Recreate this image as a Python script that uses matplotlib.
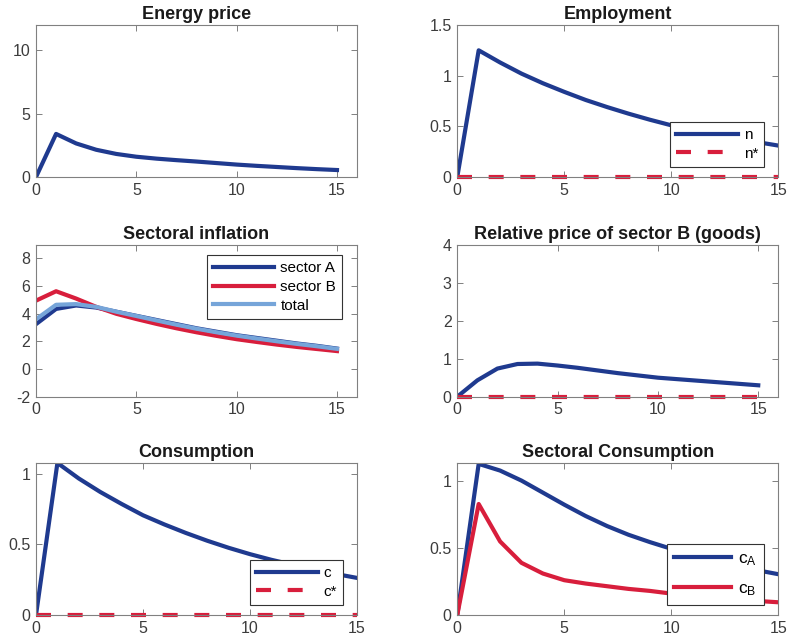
import numpy as np
import matplotlib
matplotlib.use("Agg")
import matplotlib.pyplot as plt

plt.rcParams['font.family'] = ['Liberation Sans', 'DejaVu Sans']
plt.rcParams['axes.unicode_minus'] = False

# impulse responses, horizons 0..15
t = np.arange(16)

energy_price = [0, 3.4, 2.65, 2.15, 1.82, 1.6, 1.45, 1.33, 1.22, 1.1, 0.98, 0.88, 0.79, 0.7, 0.62, 0.55]

n = [0, 1.25, 1.13, 1.02, 0.925, 0.84, 0.76, 0.69, 0.625, 0.565, 0.51, 0.465, 0.42, 0.38, 0.345, 0.31]
n_star = [0] * 16

pi_A = [3.25, 4.35, 4.6, 4.45, 4.15, 3.85, 3.55, 3.25, 2.95, 2.7, 2.45, 2.25, 2.05, 1.85, 1.68, 1.48]
pi_B = [4.95, 5.63, 5.1, 4.5, 4.0, 3.62, 3.27, 2.95, 2.66, 2.4, 2.16, 1.96, 1.77, 1.6, 1.45, 1.3]
pi_tot = [3.6, 4.65, 4.7, 4.5, 4.15, 3.84, 3.52, 3.21, 2.92, 2.66, 2.42, 2.21, 2.01, 1.82, 1.65, 1.46]

rel_price = [0, 0.43, 0.74, 0.86, 0.87, 0.82, 0.76, 0.69, 0.62, 0.56, 0.5, 0.46, 0.42, 0.38, 0.34, 0.3]
rel_price_star = [0] * 16

c = [0, 1.075, 0.965, 0.87, 0.785, 0.705, 0.64, 0.58, 0.525, 0.475, 0.43, 0.39, 0.355, 0.32, 0.29, 0.262]
c_star = [0] * 16

c_A = [0, 1.13, 1.08, 1.005, 0.915, 0.825, 0.74, 0.665, 0.6, 0.545, 0.495, 0.45, 0.41, 0.37, 0.335, 0.305]
c_B = [0, 0.83, 0.55, 0.39, 0.31, 0.26, 0.235, 0.215, 0.195, 0.18, 0.16, 0.145, 0.13, 0.118, 0.105, 0.095]

BLUE = '#1f3a8f'
RED = '#d81e3c'
LIGHT = '#76a5d9'
LW = 3.0
DASH = (3.6, 4.0)

fig = plt.figure(figsize=(7.88, 6.42), dpi=100)

lefts = [0.0457, 0.5803]
bottoms = [0.7243, 0.3821, 0.0421]
w, h = 0.4074, 0.2368


def make_ax(row, col, title, xlim, ylim, yticks, yticklabels=None):
    ax = fig.add_axes([lefts[col], bottoms[row], w, h])
    ax.set_xlim(*xlim)
    ax.set_ylim(*ylim)
    ax.set_xticks([0, 5, 10, 15])
    ax.set_yticks(yticks)
    if yticklabels is not None:
        ax.set_yticklabels(yticklabels)
    ax.set_title(title, fontsize=13, fontweight='bold', color='#1a1a1a', pad=4)
    ax.tick_params(direction='in', length=4, width=0.7, top=True, right=True,
                   labelsize=11.5, colors='#808080', labelcolor='#3c3c3c', pad=4)
    for s in ax.spines.values():
        s.set_color('#808080')
        s.set_linewidth(0.8)
    return ax


def legend(ax, loc, anchor, size=11, spacing=0.3, hl=4.0):
    lg = ax.legend(loc=loc, bbox_to_anchor=anchor, fontsize=size, handlelength=hl,
                   fancybox=False, framealpha=1, edgecolor='#333333',
                   borderpad=0.4, labelspacing=spacing, handletextpad=0.4,
                   borderaxespad=0)
    lg.get_frame().set_linewidth(0.8)
    return lg


# Energy price
ax = make_ax(0, 0, 'Energy price', (0, 16), (0, 12), [0, 5, 10])
ax.plot(t, energy_price, color=BLUE, lw=LW)

# Employment
ax = make_ax(0, 1, 'Employment', (0, 15), (0, 1.5), [0, 0.5, 1, 1.5], ['0', '0.5', '1', '1.5'])
ax.plot(t, n, color=BLUE, lw=LW, label='n')
ax.plot(t, n_star, color=RED, lw=LW, dashes=DASH, label='n*', clip_on=False)
legend(ax, 'lower right', (0.956, 0.068))

# Sectoral inflation
ax = make_ax(1, 0, 'Sectoral inflation', (0, 16), (-2, 9), [-2, 0, 2, 4, 6, 8])
ax.plot(t, pi_A, color=BLUE, lw=LW, label='sector A')
ax.plot(t, pi_B, color=RED, lw=LW, label='sector B')
ax.plot(t, pi_tot, color=LIGHT, lw=LW, label='total')
legend(ax, 'upper right', (0.954, 0.93))

# Relative price
ax = make_ax(1, 1, 'Relative price of sector B (goods)', (0, 16), (0, 4), [0, 1, 2, 3, 4])
ax.plot(t, rel_price, color=BLUE, lw=LW)
ax.plot(t, rel_price_star, color=RED, lw=LW, dashes=DASH, clip_on=False)

# Consumption
ax = make_ax(2, 0, 'Consumption', (0, 15), (0, 1.075), [0, 0.5, 1], ['0', '0.5', '1'])
ax.plot(t, c, color=BLUE, lw=LW, label='c')
ax.plot(t, c_star, color=RED, lw=LW, dashes=DASH, label='c*', clip_on=False)
legend(ax, 'lower right', (0.957, 0.066))

# Sectoral consumption
ax = make_ax(2, 1, 'Sectoral Consumption', (0, 15), (0, 1.137), [0, 0.5, 1], ['0', '0.5', '1'])
ax.plot(t, c_A, color=BLUE, lw=LW, label='$\\mathregular{c_A}$')
ax.plot(t, c_B, color=RED, lw=LW, label='$\\mathregular{c_B}$')
legend(ax, 'lower right', (0.956, 0.066), size=12.5, spacing=0.75, hl=3.3)

fig.savefig('out.png', dpi=100)
